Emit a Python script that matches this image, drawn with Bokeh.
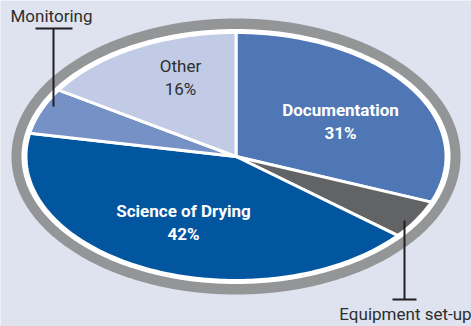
import numpy as np
from bokeh.plotting import figure
from bokeh.models import Range1d
from bokeh.core.properties import value
from bokeh.embed import file_html
from bokeh.resources import INLINE

# ---- data ----
categories = ["Documentation", "Equipment set-up", "Science of Drying", "Monitoring", "Other"]
shares = [31, 5, 42, 6, 16]
colors = ["#4f77b5", "#626365", "#02559f", "#7691c6", "#c1cbe5"]

# ---- layout (pixel-like coordinates, y downwards) ----
W, H = 471, 326
cx, cy = 235.5, 156.0
a_slice, b_slice = 210.0, 124.0
a_white, b_white = 214.5, 127.5
a_ring, b_ring = 224.5, 138.0

p = figure(width=W, height=H, output_backend="svg", toolbar_location=None,
           x_range=Range1d(0, W), y_range=Range1d(H, 0),
           min_border=0, outline_line_color=None,
           background_fill_color="#dfe3f0", border_fill_color="#dfe3f0")
p.xaxis.visible = False
p.yaxis.visible = False
p.grid.visible = False

def ellipse_pts(a, b, n=360):
    t = np.linspace(0, 2 * np.pi, n, endpoint=False)
    return list(cx + a * np.sin(t)), list(cy - b * np.cos(t))

ex, ey = ellipse_pts(a_ring, b_ring)
p.patch(ex, ey, fill_color="#939597", line_color=None)
ex, ey = ellipse_pts(a_white, b_white)
p.patch(ex, ey, fill_color="white", line_color=None)

# slices, clockwise from 12 o'clock
fr = np.array(shares, dtype=float) / sum(shares)
ends = np.cumsum(fr) * 2 * np.pi
starts = np.concatenate([[0.0], ends[:-1]])
xs, ys = [], []
for s, e in zip(starts, ends):
    t = np.linspace(s, e, max(int((e - s) / (2 * np.pi) * 360), 8))
    xs.append([cx] + list(cx + a_slice * np.sin(t)))
    ys.append([cy] + list(cy - b_slice * np.cos(t)))
p.patches(xs, ys, fill_color=colors, line_color="white", line_width=3, line_join="miter")

# labels inside slices
FONT = value("Roboto")
FS = "17px"
inside = [(0, 340, 109, "white", "bold"), (2, 183, 210, "white", "bold"), (4, 180, 65, "#2e2e2e", "normal")]
for idx, lx, ly, col, style in inside:
    p.text(x=[lx, lx], y=[ly, ly + 23], text=[categories[idx], f"{shares[idx]}%"],
           text_align="center", text_baseline="middle", text_color=col,
           text_font=FONT, text_font_size=FS, text_font_style=style)

# outside labels with leader lines
p.text(x=[51], y=[15], text=[categories[3]], text_align="center", text_baseline="middle",
       text_color="#2e2e2e", text_font=FONT, text_font_size=FS)
p.segment(x0=[35, 53], y0=[28, 28], x1=[72, 53], y1=[28, 106], line_color="#231f20", line_width=2)

p.text(x=[405], y=[313], text=[categories[1]], text_align="center", text_baseline="middle",
       text_color="#2e2e2e", text_font=FONT, text_font_size=FS)
p.segment(x0=[404, 392], y0=[220, 299], x1=[404, 416], y1=[299, 299], line_color="#231f20", line_width=2)

open("out.html", "w").write(file_html(p, INLINE))
